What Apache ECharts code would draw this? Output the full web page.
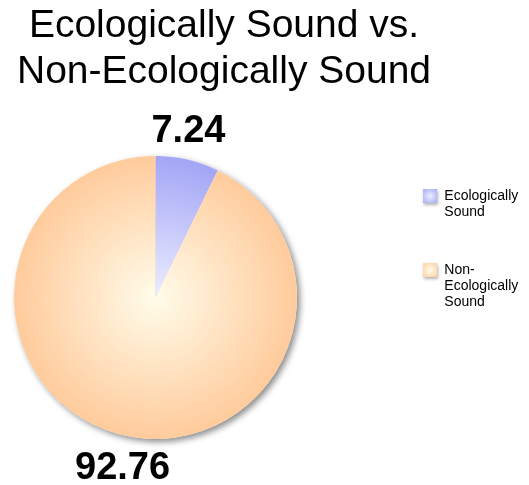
<!DOCTYPE html>
<html>
<head>
<meta charset="utf-8">
<script src="https://cdn.jsdelivr.net/npm/echarts@6/dist/echarts.min.js"></script>
<style>
html,body{margin:0;padding:0;background:#fff;}
#chart{width:529px;height:485px;}
</style>
</head>
<body>
<div id="chart"></div>
<script>
const categories = ['Ecologically Sound', 'Non-Ecologically Sound'];
const values = [7.24, 92.76];
const legendLabels = ['Ecologically\nSound', 'Non-\nEcologically\nSound'];
const titleText = 'Ecologically Sound vs.\nNon-Ecologically Sound';

const CX = 155.5, CY = 297.5, R = 141.5;
const edgeColors = ['#a3a5f6', '#ffcb9c'];
const centerColors = ['#eceeff', '#fffcea'];

function radial(i, global) {
  return global ? {
    type: 'radial', x: CX, y: CY, r: R, global: true,
    colorStops: [{offset: 0, color: centerColors[i]}, {offset: 1, color: edgeColors[i]}]
  } : {
    type: 'radial', x: 0.5, y: 0.5, r: 0.75,
    colorStops: [{offset: 0, color: centerColors[i]}, {offset: 1, color: edgeColors[i]}]
  };
}

// legend text: icon sits beside the first line, so pad with blank lines above
function legendText(name) {
  const lines = legendLabels[categories.indexOf(name)].split('\n');
  const pad = new Array(lines.length - 1).fill('');
  return pad.concat(lines.map(l => '\u2006' + l)).join('\n');
}

const mainData = categories.map((n, i) => ({name: n, value: values[i], itemStyle: {color: radial(i, true)}}));
const plainData = categories.map((n, i) => ({name: n, value: values[i]}));

const chart = echarts.init(document.getElementById('chart'));
chart.setOption({
  animation: false,
  title: {
    text: titleText,
    left: 224, top: 3, padding: 0,
    textAlign: 'center',
    textStyle: {fontFamily: 'Liberation Sans', fontSize: 39, fontWeight: 'normal', color: '#000', lineHeight: 46}
  },
  legend: {
    orient: 'vertical', left: 423, top: 172, padding: 0,
    itemWidth: 14, itemHeight: 14, itemGap: 10,
    selectedMode: false,
    formatter: legendText,
    textStyle: {fontFamily: 'Liberation Sans', fontSize: 14, lineHeight: 16, color: '#000'},
    data: categories.map((n, i) => ({
      name: n, icon: 'rect',
      itemStyle: {color: radial(i, false), shadowColor: 'rgba(0,0,0,0.3)', shadowBlur: 3, shadowOffsetX: 1, shadowOffsetY: 2}
    }))
  },
  series: [
    {
      type: 'pie', silent: true, z: 1,
      center: [CX, CY], radius: R, startAngle: 90, clockwise: true,
      label: {show: false}, labelLine: {show: false},
      itemStyle: {color: '#fff', shadowColor: 'rgba(0,0,0,0.45)', shadowBlur: 6, shadowOffsetX: 3, shadowOffsetY: 3},
      data: plainData
    },
    {
      type: 'pie', silent: true, z: 2,
      center: [CX, CY], radius: R, startAngle: 90, clockwise: true,
      label: {show: false}, labelLine: {show: false},
      itemStyle: {borderWidth: 0},
      data: mainData
    },
    {
      type: 'pie', silent: true, z: 3,
      center: [CX, CY + 2.5], radius: [164, 174], startAngle: 92, clockwise: true,
      itemStyle: {color: 'rgba(0,0,0,0)'},
      label: {show: true, position: 'inside', formatter: '{c}', fontFamily: 'Liberation Sans', fontSize: 38, fontWeight: 'bold', color: '#000'},
      labelLine: {show: false},
      data: plainData
    }
  ]
});
</script>
</body>
</html>
